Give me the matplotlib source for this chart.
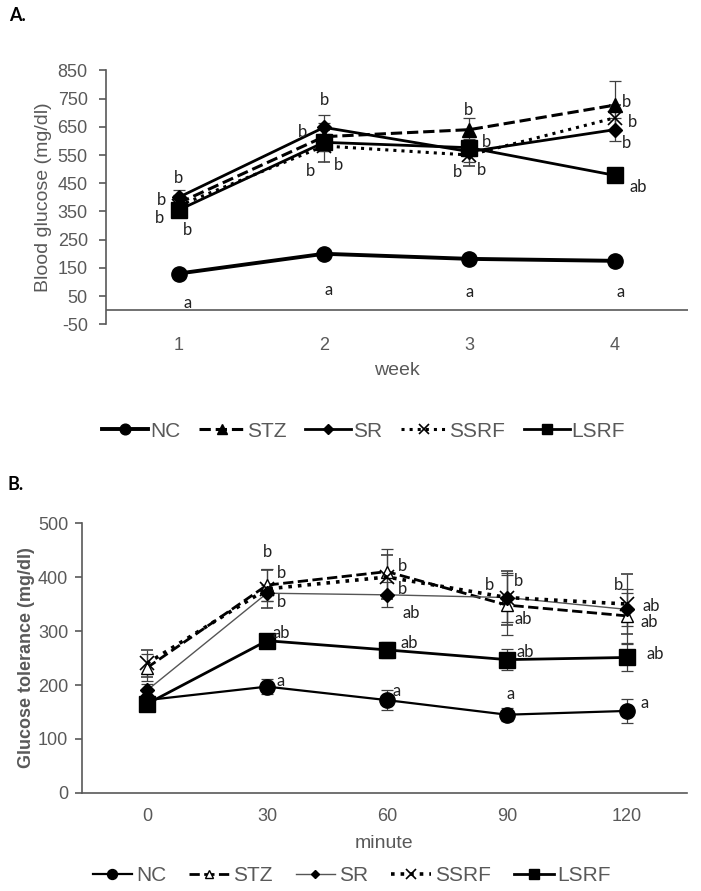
import numpy as np
from matplotlib import pyplot as plt

plt.rcParams['font.family'] = ['Liberation Sans', 'DejaVu Sans']
plt.rcParams['axes.unicode_minus'] = False

GREY = '#595959'
LETTER_FONT = ['Lato', 'DejaVu Sans']

groups = ['NC', 'STZ', 'SR', 'SSRF', 'LSRF']

# panel A: blood glucose by week
weeks = [1, 2, 3, 4]
glu_a = {
    'NC':   [130, 200, 182, 175],
    'STZ':  [380, 615, 640, 727],
    'SR':   [400, 648, 562, 640],
    'SSRF': [370, 582, 550, 682],
    'LSRF': [355, 595, 576, 478],
}
err_a = {
    'NC':   [10, 15, 12, 12],
    'STZ':  [30, 50, 40, 85],
    'SR':   [25, 45, 35, 40],
    'SSRF': [25, 55, 40, 45],
    'LSRF': [20, 30, 30, 15],
}
letters_a = [
    (1.0, 470, 'b'), (0.88, 390, 'b'), (0.87, 328, 'b'), (1.06, 285, 'b'), (1.06, 27, 'a'),
    (2.0, 744, 'b'), (1.85, 630, 'b'), (1.91, 492, 'b'), (2.1, 515, 'b'), (2.03, 73, 'a'),
    (2.99, 709, 'b'), (3.12, 596, 'b'), (2.92, 490, 'b'), (3.08, 497, 'b'), (3.0, 63, 'a'),
    (4.08, 737, 'b'), (4.12, 666, 'b'), (4.08, 592, 'b'), (4.16, 437, 'ab'), (4.04, 66, 'a'),
]

# panel B: glucose tolerance by minute
minutes = [0, 30, 60, 90, 120]
glu_b = {
    'NC':   [172, 197, 172, 145, 152],
    'STZ':  [232, 385, 410, 348, 328],
    'SR':   [190, 370, 367, 362, 340],
    'SSRF': [240, 378, 400, 362, 350],
    'LSRF': [165, 282, 265, 247, 251],
}
err_b = {
    'NC':   [5, 14, 18, 12, 22],
    'STZ':  [25, 30, 42, 55, 50],
    'SR':   [12, 15, 23, 45, 30],
    'SSRF': [25, 35, 40, 50, 56],
    'LSRF': [8, 6, 15, 20, 25],
}
letters_b = [
    (30, 446, 'b'), (33.5, 407, 'b'), (33.5, 354, 'b'), (33.5, 296, 'ab'), (33.5, 207, 'a'),
    (64, 420, 'b'), (64, 378, 'b'), (66, 333, 'ab'), (65.5, 278, 'ab'), (62.5, 189, 'a'),
    (85.7, 385, 'b'), (93, 393, 'b'), (94, 322, 'ab'), (94.5, 261, 'ab'), (91, 183, 'a'),
    (118, 385, 'b'), (126, 346, 'ab'), (125.5, 317, 'ab'), (127, 257, 'ab'), (124.5, 167, 'a'),
]

style_a = {
    'NC':   dict(ls='-', lw=2.8, marker='o', ms=11, color='black'),
    'STZ':  dict(ls='--', lw=2.2, marker='^', ms=10, color='black'),
    'SR':   dict(ls='-', lw=2.0, marker='D', ms=7, color='black'),
    'SSRF': dict(ls=':', lw=2.2, marker='x', ms=10, mew=1.2, color='black'),
    'LSRF': dict(ls='-', lw=2.0, marker='s', ms=11, color='black'),
}
style_b = {
    'NC':   dict(ls='-', lw=1.6, marker='o', ms=11, color='black'),
    'STZ':  dict(ls='--', lw=2.0, marker='^', ms=9, color='black', mfc='white'),
    'SR':   dict(ls='-', lw=1.0, marker='D', ms=7, color='#555555', mfc='black', mec='black'),
    'SSRF': dict(ls=':', lw=2.6, marker='x', ms=10, mew=1.2, color='black'),
    'LSRF': dict(ls='-', lw=2.0, marker='s', ms=11, color='black'),
}

fig = plt.figure(figsize=(7.01, 8.91), dpi=100)

# ---------- A ----------
ax1 = fig.add_axes([0.151, 0.636, 0.830, 0.285])
lines_a = []
for g in groups:
    c = ax1.errorbar(weeks, glu_a[g], yerr=err_a[g], ecolor='#404040', elinewidth=0.9,
                     capsize=4, capthick=0.9, **style_a[g])
    lines_a.append(c.lines[0])
for x, y, t in letters_a:
    ax1.text(x, y, t, fontsize=12, family=LETTER_FONT, color='#222222',
             ha='center', va='center')
ax1.set_xlim(0.5, 4.5)
ax1.set_ylim(-50, 850)
ax1.set_yticks(np.arange(-50, 851, 100))
ax1.set_xticks(weeks)
ax1.axhline(0, color=GREY, lw=1.2)
ax1.spines[['top', 'right', 'bottom']].set_visible(False)
ax1.spines['left'].set_color(GREY)
ax1.spines['left'].set_linewidth(1.2)
ax1.tick_params(axis='y', colors=GREY, labelsize=13, length=5, width=1.2, pad=8)
ax1.tick_params(axis='x', colors=GREY, labelsize=13, length=0, pad=9)
ax1.set_ylabel('Blood glucose (mg/dl)', fontsize=14, color=GREY, labelpad=4)
ax1.set_xlabel('week', fontsize=14, color=GREY, labelpad=6)
fig.legend(lines_a, groups, loc='center', bbox_to_anchor=(0.519, 0.516), ncol=5, frameon=False,
           fontsize=15, handlelength=2.2, handletextpad=0.1, columnspacing=0.9,
           markerscale=0.7, labelcolor=GREY)
fig.text(0.013, 0.983, 'A.', fontsize=13, fontweight='bold', family=LETTER_FONT, va='center')

# ---------- B ----------
ax2 = fig.add_axes([0.117, 0.110, 0.863, 0.303])
lines_b = []
for g in groups:
    c = ax2.errorbar(minutes, glu_b[g], yerr=err_b[g], ecolor='#404040', elinewidth=0.9,
                     capsize=4, capthick=0.9, **style_b[g])
    lines_b.append(c.lines[0])
for x, y, t in letters_b:
    ax2.text(x, y, t, fontsize=12, family=LETTER_FONT, color='#222222',
             ha='center', va='center')
ax2.set_xlim(-16.25, 135)
ax2.set_ylim(0, 500)
ax2.set_yticks(np.arange(0, 501, 100))
ax2.set_xticks(minutes)
ax2.spines[['top', 'right']].set_visible(False)
for s in ['left', 'bottom']:
    ax2.spines[s].set_color(GREY)
    ax2.spines[s].set_linewidth(1.2)
ax2.tick_params(axis='y', colors=GREY, labelsize=13, length=5, width=1.2, pad=5)
ax2.tick_params(axis='x', colors=GREY, labelsize=13, length=0, pad=11)
ax2.set_ylabel('Glucose tolerance (mg/dl)', fontsize=13, fontweight='bold', color=GREY, labelpad=2)
ax2.set_xlabel('minute', fontsize=14, color=GREY, labelpad=7)
fig.legend(lines_b, groups, loc='center', bbox_to_anchor=(0.502, 0.017), ncol=5, frameon=False,
           fontsize=15, handlelength=1.9, handletextpad=0.2, columnspacing=1.1,
           markerscale=0.65, labelcolor=GREY)
fig.text(0.01, 0.456, 'B.', fontsize=13, fontweight='bold', family=LETTER_FONT, va='center')

fig.savefig('out.png', dpi=100)
